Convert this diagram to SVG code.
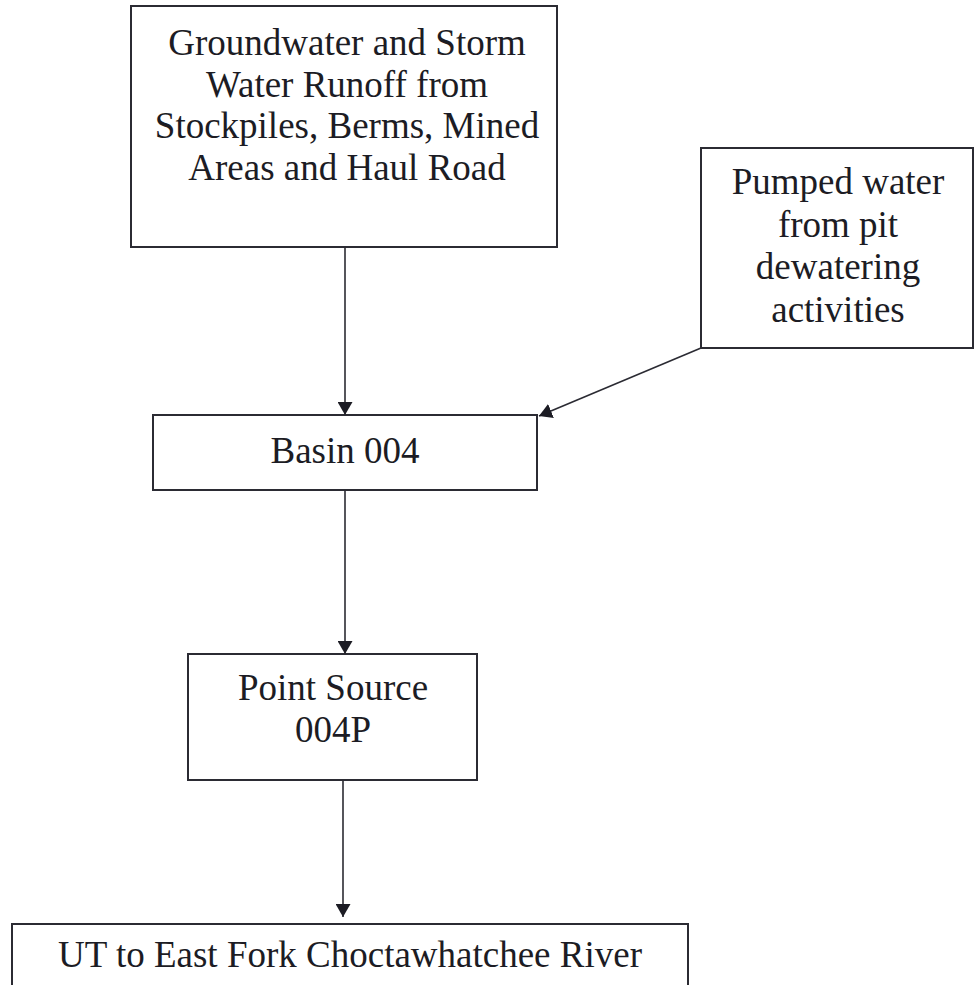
<svg xmlns="http://www.w3.org/2000/svg" width="975" height="985" viewBox="0 0 975 985">
<defs>
<style>
.box{fill:none;stroke:#2b2b33;stroke-width:2}
.lbl{font-family:"Liberation Serif","Times New Roman",serif;font-size:37px;fill:#1c1c24;text-anchor:middle}
.conn{stroke:#2b2b33;stroke-width:1.6;fill:none}
</style>
<marker id="ah" viewBox="0 0 13 15" refX="13" refY="7.5" markerWidth="13" markerHeight="15" markerUnits="userSpaceOnUse" orient="auto">
<path d="M0,0 L13,7.5 L0,15 Z" fill="#1c1c24"/>
</marker>
</defs>
<rect width="975" height="985" fill="#ffffff"/>
<g id="runoff">
<rect class="box" x="131" y="6" width="426" height="241"/>
<text class="lbl" x="347" y="55">Groundwater and Storm</text>
<text class="lbl" x="347" y="97">Water Runoff from</text>
<text class="lbl" x="347" y="138">Stockpiles, Berms, Mined</text>
<text class="lbl" x="347" y="180">Areas and Haul Road</text>
</g>
<g id="pumped">
<rect class="box" x="701" y="148" width="272" height="200"/>
<text class="lbl" x="838" y="194">Pumped water</text>
<text class="lbl" x="838" y="237">from pit</text>
<text class="lbl" x="838" y="279">dewatering</text>
<text class="lbl" x="838" y="322">activities</text>
</g>
<g id="basin">
<rect class="box" x="153" y="415" width="384" height="75"/>
<text class="lbl" x="345" y="463">Basin 004</text>
</g>
<g id="pointsource">
<rect class="box" x="188" y="654" width="289" height="126"/>
<text class="lbl" x="333" y="700">Point Source</text>
<text class="lbl" x="333" y="742">004P</text>
</g>
<g id="river">
<rect class="box" x="12" y="924" width="676" height="80"/>
<text class="lbl" x="350" y="967">UT to East Fork Choctawhatchee River</text>
</g>
<g id="connectors">
<line class="conn" x1="345" y1="247" x2="345" y2="415" marker-end="url(#ah)"/>
<line class="conn" x1="701" y1="348" x2="539" y2="416" marker-end="url(#ah)"/>
<line class="conn" x1="345" y1="490" x2="345" y2="654" marker-end="url(#ah)"/>
<line class="conn" x1="343" y1="780" x2="343" y2="917" marker-end="url(#ah)"/>
</g>
</svg>
